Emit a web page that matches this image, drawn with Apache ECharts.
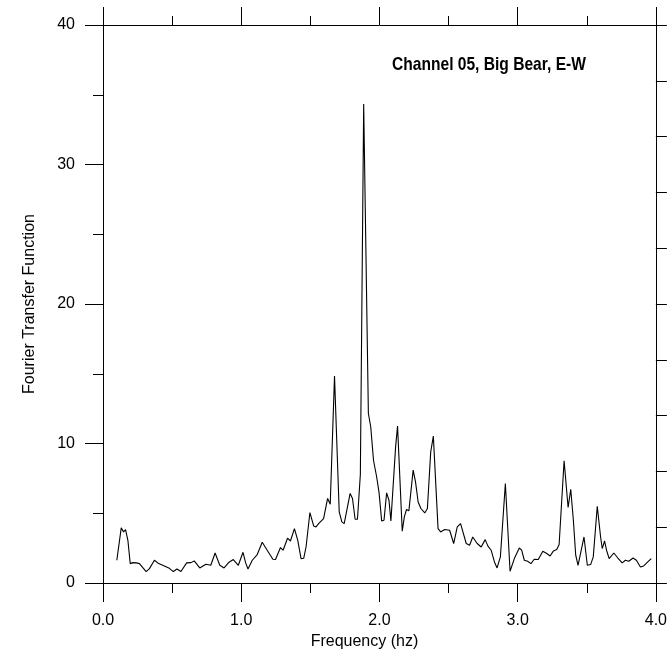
<!DOCTYPE html>
<html>
<head>
<meta charset="utf-8">
<script src="https://cdn.jsdelivr.net/npm/echarts@6/dist/echarts.min.js"></script>
<style>
html,body{margin:0;padding:0;background:#fff;}
#chart{width:670px;height:660px;}
</style>
</head>
<body>
<div id="chart"></div>
<script>
const titleText = 'Channel 05, Big Bear, E-W';
const xName = 'Frequency (hz)';
const yName = 'Fourier Transfer Function';
const xTicks = [0, 1, 2, 3, 4];
const yTicks = [0, 10, 20, 30, 40];

const freq = [
0.100,0.132,0.149,0.163,0.180,0.197,0.216,0.240,0.264,0.288,
0.312,0.336,0.372,0.403,0.444,0.480,0.509,0.535,0.564,0.605,
0.636,0.660,0.700,0.744,0.780,0.811,0.845,0.876,0.912,0.943,
0.979,1.013,1.032,1.049,1.080,1.116,1.152,1.188,1.229,1.248,
1.284,1.303,1.335,1.356,1.385,1.409,1.433,1.452,1.469,1.497,
1.524,1.541,1.560,1.572,1.596,1.625,1.644,1.675,1.709,1.728,
1.745,1.788,1.805,1.824,1.841,1.862,1.886,1.920,1.937,1.957,
1.980,1.997,2.016,2.033,2.052,2.069,2.083,2.117,2.131,2.165,
2.180,2.196,2.213,2.244,2.261,2.280,2.300,2.328,2.347,2.371,
2.390,2.424,2.443,2.472,2.508,2.537,2.563,2.587,2.628,2.652,
2.675,2.707,2.736,2.765,2.784,2.808,2.832,2.851,2.875,2.911,
2.945,2.976,3.012,3.029,3.048,3.072,3.096,3.120,3.149,3.182,
3.211,3.235,3.259,3.283,3.300,3.336,3.365,3.384,3.403,3.420,
3.437,3.451,3.480,3.504,3.528,3.547,3.576,3.600,3.612,3.629,
3.643,3.662,3.696,3.725,3.756,3.780,3.804,3.835,3.859,3.888,
3.912,3.941,3.967
];
const amp = [
1.63,3.95,3.66,3.83,3.06,1.39,1.46,1.44,1.39,1.10,
0.82,1.03,1.63,1.39,1.22,1.05,0.82,1.00,0.82,1.44,
1.46,1.58,1.08,1.34,1.27,2.15,1.27,1.08,1.49,1.68,
1.27,2.20,1.44,1.00,1.63,2.04,2.92,2.35,1.70,1.68,
2.54,2.35,3.21,3.01,3.90,3.06,1.75,1.77,2.58,5.05,
4.09,4.02,4.26,4.14,4.62,6.06,5.65,14.83,5.10,4.38,
4.26,6.42,6.06,4.57,4.57,7.80,34.33,12.15,11.20,8.80,
7.60,6.50,4.45,4.50,6.46,5.93,4.45,9.76,11.25,3.71,
4.74,5.27,5.17,8.09,7.25,5.81,5.34,5.02,5.34,9.40,
10.53,3.90,3.66,3.83,3.78,2.83,4.02,4.26,2.83,2.71,
3.30,2.83,2.58,3.11,2.66,2.35,1.51,1.08,1.87,7.13,
0.84,1.75,2.51,2.35,1.63,1.56,1.39,1.70,1.68,2.27,
2.11,1.94,2.30,2.40,2.76,8.76,5.41,6.72,4.50,1.99,
1.27,1.27,3.30,1.27,1.32,1.87,5.50,3.30,2.47,3.01,
2.35,1.75,2.15,1.79,1.44,1.63,1.56,1.79,1.63,1.15,
1.22,1.51,1.75
];

const data = freq.map((f, i) => [f, amp[i]]);
const FONT = '"Liberation Sans", Arial, sans-serif';
const axisLine = {show: true, onZero: false, lineStyle: {color: '#000', width: 1}};

const chart = echarts.init(document.getElementById('chart'), null, {renderer: 'canvas'});
chart.setOption({
  animation: false,
  backgroundColor: '#fff',
  graphic: [{
    type: 'text',
    x: 392, y: 65,
    scaleX: 0.82,
    style: {
      text: titleText,
      font: 'bold 19px "Liberation Sans", Arial, sans-serif',
      fill: '#000',
      textAlign: 'left',
      textVerticalAlign: 'middle'
    }
  }],
  grid: {left: 103, right: 11, top: 25, bottom: 77, containLabel: false},
  xAxis: [{
    type: 'value', position: 'bottom',
    min: xTicks[0], max: xTicks[xTicks.length - 1], interval: 1,
    name: xName, nameLocation: 'middle', nameGap: 48,
    nameTextStyle: {fontFamily: FONT, fontSize: 16, color: '#000', padding: [0, 30, 0, 0]},
    axisLine: axisLine,
    axisTick: {show: true, inside: false, length: 19, lineStyle: {color: '#000'}},
    minorTick: {show: true, splitNumber: 2, length: 10, lineStyle: {color: '#000'}},
    axisLabel: {margin: 30, fontFamily: FONT, fontSize: 16, color: '#000', formatter: v => v.toFixed(1)},
    splitLine: {show: false}
  }, {
    type: 'value', position: 'top',
    min: xTicks[0], max: xTicks[xTicks.length - 1], interval: 1,
    axisLine: axisLine,
    axisTick: {show: true, inside: false, length: 18, lineStyle: {color: '#000'}},
    minorTick: {show: true, splitNumber: 2, length: 9, lineStyle: {color: '#000'}},
    axisLabel: {show: false},
    splitLine: {show: false}
  }],
  yAxis: [{
    type: 'value', position: 'left',
    min: yTicks[0], max: yTicks[yTicks.length - 1], interval: 10,
    name: yName, nameLocation: 'middle', nameGap: 65, nameRotate: 90,
    nameTextStyle: {fontFamily: FONT, fontSize: 16, color: '#000'},
    axisLine: axisLine,
    axisTick: {show: true, inside: false, length: 18, lineStyle: {color: '#000'}},
    minorTick: {show: true, splitNumber: 2, length: 10, lineStyle: {color: '#000'}},
    axisLabel: {margin: 28, fontFamily: FONT, fontSize: 16, color: '#000'},
    splitLine: {show: false}
  }, {
    type: 'value', position: 'right',
    min: yTicks[0], max: yTicks[yTicks.length - 1], interval: 4,
    axisLine: axisLine,
    axisTick: {show: true, inside: false, length: 11, lineStyle: {color: '#000'}},
    axisLabel: {show: false},
    splitLine: {show: false}
  }],
  series: [{
    type: 'line',
    xAxisIndex: 0, yAxisIndex: 0,
    data: data,
    showSymbol: false, symbol: 'none',
    smooth: false,
    lineStyle: {color: '#000', width: 1.1},
    silent: true
  }]
});
</script>
</body>
</html>
